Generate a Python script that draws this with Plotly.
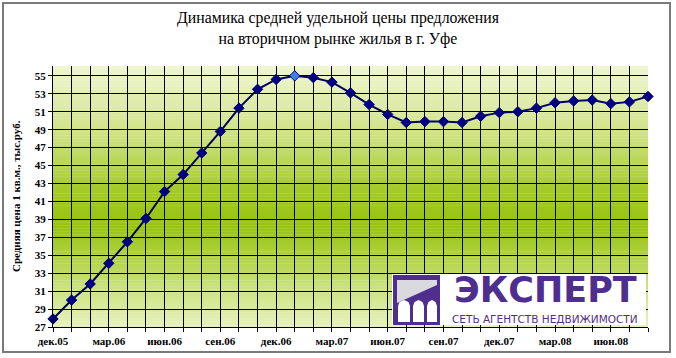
import plotly.graph_objects as go

# ---- data ----
months = ["дек.05", "янв.06", "фев.06", "мар.06", "апр.06", "май.06", "июн.06", "июл.06",
          "авг.06", "сен.06", "окт.06", "ноя.06", "дек.06", "янв.07", "фев.07", "мар.07",
          "апр.07", "май.07", "июн.07", "июл.07", "авг.07", "сен.07", "окт.07", "ноя.07",
          "дек.07", "янв.08", "фев.08", "мар.08", "апр.08", "май.08", "июн.08", "июл.08",
          "авг.08"]
prices = [27.9, 30.0, 31.8, 34.1, 36.5, 39.1, 42.1, 44.0, 46.4, 48.8, 51.4, 53.5, 54.6,
          55.0, 54.8, 54.3, 53.1, 51.8, 50.7, 49.8, 49.9, 49.9, 49.8, 50.5, 50.9, 51.0,
          51.4, 52.0, 52.2, 52.3, 51.9, 52.1, 52.7]
label_every = 3
y_ticks = list(range(27, 56, 2))

title_text = "Динамика средней удельной цены предложения<br>на вторичном рынке жилья в г. Уфе"
y_title = "Средняя цена 1 кв.м., тыс.руб."
logo_big = "ЭКСПЕРТ"
logo_small = "СЕТЬ АГЕНТСТВ НЕДВИЖИМОСТИ"

# ---- layout geometry (pixels) ----
W, H = 676, 358
L, R, T, B = 53, 28, 66, 31
PW, PH = W - L - R, H - T - B


def px(x):
    return (x - L) / PW


def py(y):
    return (H - B - y) / PH


x_idx = list(range(len(months)))
tickvals = x_idx[::label_every]
ticktext = months[::label_every]

navy = "#000080"
peak = max(prices)
marker_colors = ["#3f7fe6" if v == peak else navy for v in prices]

fig = go.Figure()
fig.add_trace(go.Scatter(
    x=x_idx, y=prices, mode="lines+markers",
    line=dict(color="#00005a", width=2),
    marker=dict(symbol="diamond", size=8, color=marker_colors,
                line=dict(color=navy, width=1)),
    cliponaxis=False, hoverinfo="x+y", showlegend=False,
))

# gradient background strips
stops = [(0.0, (240, 246, 210)), (0.25, (208, 227, 136)), (0.5, (160, 200, 30)),
         (0.62, (152, 196, 16)), (0.82, (196, 222, 112)), (1.0, (232, 242, 190))]


def col_at(f):
    for (f0, c0), (f1, c1) in zip(stops[:-1], stops[1:]):
        if f0 <= f <= f1:
            t = (f - f0) / (f1 - f0)
            return "rgb(%d,%d,%d)" % tuple(round(a + (b - a) * t) for a, b in zip(c0, c1))
    return "rgb(%d,%d,%d)" % stops[-1][1]


shapes = []
N = 90
for i in range(N):
    f_top = i / N
    shapes.append(dict(type="rect", xref="x domain", yref="y domain",
                       x0=0, x1=1, y0=1 - (i + 1) / N - 0.001, y1=1 - f_top,
                       fillcolor=col_at((i + 0.5) / N), line=dict(width=0),
                       layer="below"))

# outer frame
shapes.append(dict(type="rect", xref="paper", yref="paper",
                   x0=px(3), x1=px(670), y0=py(352), y1=py(3),
                   line=dict(color="#7a7a7a", width=2), fillcolor="rgba(0,0,0,0)",
                   layer="above"))

purple = "#4f2f8e"
# logo white box
shapes.append(dict(type="rect", xref="paper", yref="paper",
                   x0=px(392), x1=px(646), y0=py(325), y1=py(274),
                   fillcolor="white", line=dict(width=0), layer="above"))
# logo icon
shapes.append(dict(type="rect", xref="paper", yref="paper",
                   x0=px(393), x1=px(440), y0=py(325), y1=py(275),
                   fillcolor=purple, line=dict(width=0), layer="above"))


def path(points):
    return "M " + " L ".join("%f,%f" % (px(a), py(b)) for a, b in points) + " Z"


shapes.append(dict(type="path", xref="paper", yref="paper",
                   path=path([(397, 280), (437, 280), (437, 285), (397, 303)]),
                   fillcolor="#d9d9df", line=dict(width=0), layer="above"))
for x0, x1 in [(398, 410), (413, 424), (427, 437)]:
    xm = (x0 + x1) / 2
    pts = [(x0, 322), (x0, 306), (x0 + 1.5, 302), (xm, 300), (x1 - 1.5, 302), (x1, 306), (x1, 322)]
    shapes.append(dict(type="path", xref="paper", yref="paper", path=path(pts),
                       fillcolor="white", line=dict(width=0), layer="above"))

annotations = [
    dict(text=logo_big, xref="paper", yref="paper", x=px(545), y=py(290),
         xanchor="center", yanchor="middle", showarrow=False,
         font=dict(family="DejaVu Sans", size=35, color=purple, weight="bold")),
    dict(text=logo_small, xref="paper", yref="paper", x=px(545), y=py(319),
         xanchor="center", yanchor="middle", showarrow=False,
         font=dict(family="DejaVu Sans", size=10.5, color=purple)),
    dict(text="<b>" + y_title + "</b>", xref="paper", yref="paper", x=px(16), y=py(196),
         xanchor="center", yanchor="middle", textangle=-90, showarrow=False,
         font=dict(family="Liberation Serif", size=11, color="black")),
    dict(text=title_text, xref="paper", yref="paper", x=px(338), y=py(28),
         xanchor="center", yanchor="middle", showarrow=False,
         font=dict(family="Liberation Serif", size=15.8, color="black")),
]

serif = "Liberation Serif"
fig.update_layout(
    width=W, height=H,
    margin=dict(l=L, r=R, t=T, b=B, pad=0),
    paper_bgcolor="white", plot_bgcolor="white",
    shapes=shapes, annotations=annotations,
    xaxis=dict(range=[0, len(months) - 1], tickmode="array", tickvals=tickvals,
               ticktext=ticktext, showgrid=True, gridcolor="black", gridwidth=1.3,
               ticks="outside", ticklen=4, tickcolor="black",
               tickfont=dict(family=serif, size=11, color="black", weight="bold"),
               minor=dict(dtick=1, tick0=0, showgrid=True, gridcolor="black", gridwidth=1.3,
                          ticks="outside", ticklen=4, tickcolor="black"),
               showline=True, linecolor="black", linewidth=1.3, zeroline=False,
               fixedrange=True),
    yaxis=dict(range=[27, 56.1], tickmode="array", tickvals=y_ticks,
               showgrid=True, gridcolor="black", gridwidth=1.3,
               ticks="outside", ticklen=4, tickcolor="black",
               tickfont=dict(family=serif, size=11, color="black", weight="bold"),
               showline=True, linecolor="black", linewidth=1.3, zeroline=False,
               fixedrange=True),
)

fig.write_html("out.html", config={"displayModeBar": False},
               post_script="document.body.style.margin='0px';document.body.style.padding='0px';")
